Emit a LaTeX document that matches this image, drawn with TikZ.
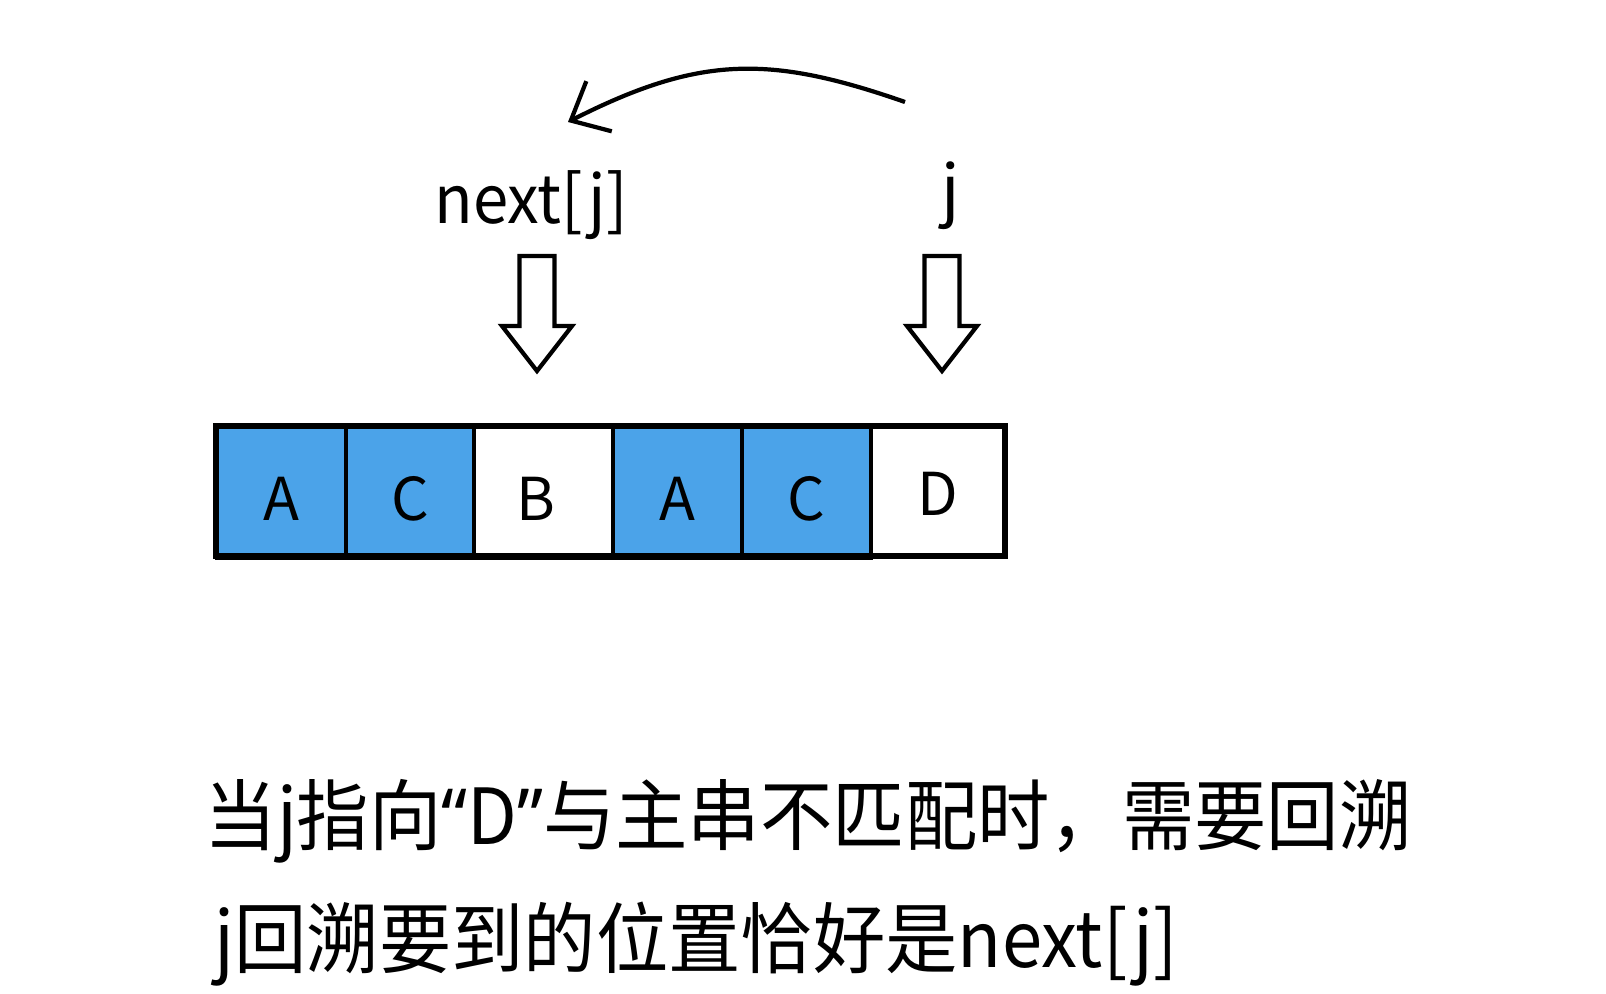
\documentclass[tikz,border=0pt]{standalone}
\usepackage{fontspec}
\setmainfont{Noto Sans CJK SC}
\newfontfamily\latinfont{Noto Sans}
\usepackage{xcolor}
\usepackage{tikz}
\usetikzlibrary{arrows.meta}

\definecolor{cellblue}{HTML}{4BA3E9}
\newcommand{\narrow}[2]{\scalebox{#1}[1]{#2}}

\tikzset{
    cell/.style={draw, line width=0.9pt, inner sep=0pt, minimum height=12.8mm,
        text height=17pt, text depth=0pt, font=\fontsize{16.8}{18}\selectfont},
    hit/.style={cell, fill=cellblue},
    tag/.style={inner sep=0pt, anchor=base, font=\fontsize{19}{23}\selectfont},
    note/.style={inner sep=0pt, anchor=base west, font=\fontsize{22}{26}\selectfont},
    pics/downarr/.style={code={
        \draw[line width=1.2pt, line join=miter]
            (-17.5,0) -- (-17.5,70) -- (-35,70) -- (0,115) -- (35,70) -- (17.5,70) -- (17.5,0) -- cycle;
    }}
}

\begin{document}
\begin{tikzpicture}[x=0.01cm, y=-0.01cm]
    \useasboundingbox (0,0) rectangle (1606,994);

    % pattern string
    \node[hit,  minimum width=12.9mm] (C1) at (281.5,491){A};
    \node[hit,  minimum width=12.8mm] (C2) at (410,491){C};
    \node[cell, minimum width=13.9mm] (C3) at (543.5,491){\kern-4.6pt B};
    \node[hit,  minimum width=12.9mm] (C4) at (677.5,491){A};
    \node[hit,  minimum width=12.9mm] (C5) at (806.5,491){C};
    \node[cell, minimum width=13.3mm, text height=14pt] (C6) at (937.5,491){D};
    \draw[line width=1.3pt] (C1.north west) rectangle (C6.south east);
    \draw[line width=1.8pt] (C1.south west) -- (C5.south east);

    % pointers
    \node[tag] (NJ) at (531,224){\narrow{0.95}{next[j]}};
    \node[tag] (J) at (951,213){j};
    \pic at (537,256) {downarr};
    \pic at (942,256) {downarr};

    \coordinate (From) at (905,102);
    \coordinate (To) at (568,122);
    \draw[-{Straight Barb[length=9pt, width=16pt]}, line width=1.2pt]
        (From) .. controls (770,55) and (700,55) .. (To);

    % explanation
    \node[note] (L1) at (204,844){\narrow{0.935}{当j指向{\latinfont “}D{\latinfont ”}与主串不匹配时，需要回溯}};
    \node[note] (L2) at (214,967){\narrow{0.935}{j回溯要到的位置恰好是next[j]}};
\end{tikzpicture}
\end{document}
